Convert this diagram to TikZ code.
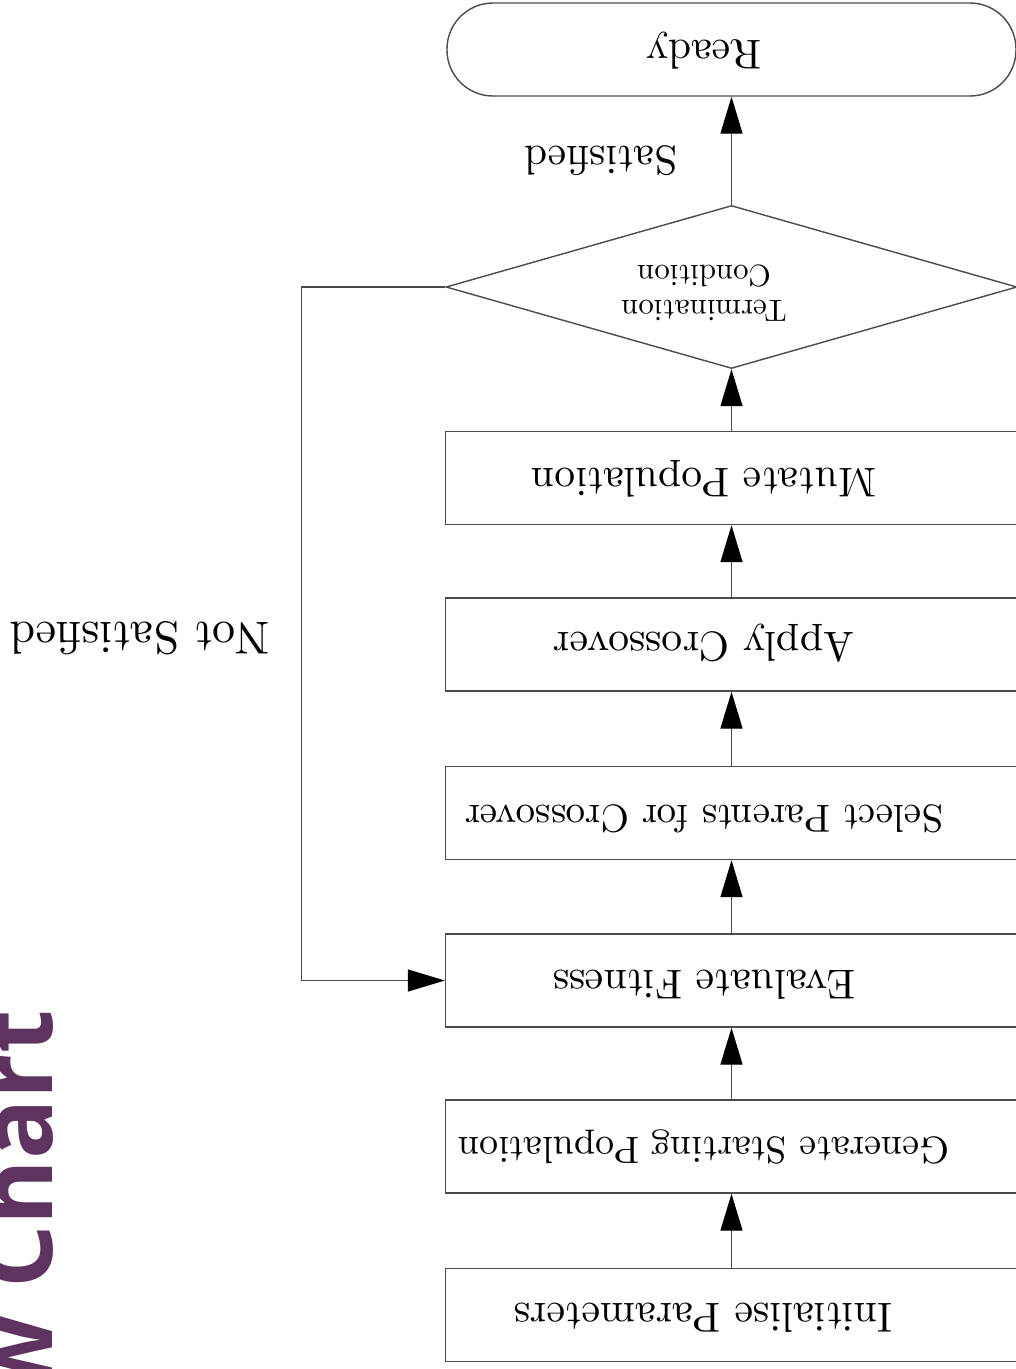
\documentclass[tikz,border=0pt]{standalone}
\usepackage{fontspec}
\usepackage{graphicx}
\newfontfamily\titlefont{Open Sans}
\usetikzlibrary{shapes.geometric,arrows.meta}
\definecolor{linecol}{RGB}{75,75,75}
\definecolor{purp}{RGB}{94,51,96}
\tikzset{
  box/.style={draw=linecol, line width=1.4pt, minimum width=572pt, minimum height=93pt, inner sep=0pt},
  lbl/.style={rotate=180, inner sep=0pt, anchor=base},
  arr/.style={draw=linecol, line width=1.4pt, -{Triangle[length=37pt,width=22pt,color=black]}},
}
\begin{document}
\begin{tikzpicture}[x=1pt,y=-1pt]
\useasboundingbox (0,0) rectangle (1016,1369);
\clip (0,0) rectangle (1016,1369);
% title fragment
\node[rotate=90, anchor=base east, inner sep=0pt, text=purp, font=\titlefont\bfseries\fontsize{100}{110}\selectfont] (title) at (52,1010) {w Chart};
% shapes
\node[box, rounded corners=46pt, minimum width=569pt] (ready) at (731.5,49.5) {};
\node[draw=linecol, line width=1.4pt, diamond, minimum width=571pt, minimum height=163pt, inner sep=0pt] (dia) at (731.5,287) {};
\node[box] (b6) at (731.5,478) {};
\node[box] (b5) at (731.5,644.5) {};
\node[box] (b4) at (731.5,813) {};
\node[box] (b3) at (731.5,980.5) {};
\node[box] (b2) at (731.5,1146.5) {};
\node[box] (b1) at (731.5,1315) {};
% texts
\node[lbl] (readyt) at (704,40) {\scalebox{4.16}{Ready}};
\node[rotate=180, inner sep=0pt] (diat) at (704,290) {\scalebox{3.08}{\def\arraystretch{0.95}\begin{tabular}{@{}c@{}}Termination\\Condition\end{tabular}}};
\node[lbl] (t6) at (704,468) {\scalebox{4.15}{Mutate Population}};
\node[lbl] (t5) at (704,632) {\scalebox{4.17}{Apply Crossover}};
\node[lbl] (t4) at (704,805) {\scalebox{3.9}{Select Parents for Crossover}};
\node[lbl] (t3) at (704,970) {\scalebox{4.17}{Evaluate Fitness}};
\node[lbl] (t2) at (704,1137) {\scalebox{3.79}{Generate Starting Population}};
\node[lbl] (t1) at (703,1303) {\scalebox{4.19}{Initialise Parameters}};
\node[lbl] (sat) at (601,146) {\scalebox{4.14}{Satisfied}};
\node[lbl] (nsat) at (140,622) {\scalebox{4.6}{Not Satisfied}};
% connectors
\draw[arr] (b1.north) -- (b2.south);
\draw[arr] (b2.north) -- (b3.south);
\draw[arr] (b3.north) -- (b4.south);
\draw[arr] (b4.north) -- (b5.south);
\draw[arr] (b5.north) -- (b6.south);
\draw[arr] (b6.north) -- (dia.south);
\draw[arr] (dia.north) -- (ready.south);
\draw[arr] (dia.west) -- ++(-144,0) |- (b3.west);
\end{tikzpicture}
\end{document}
